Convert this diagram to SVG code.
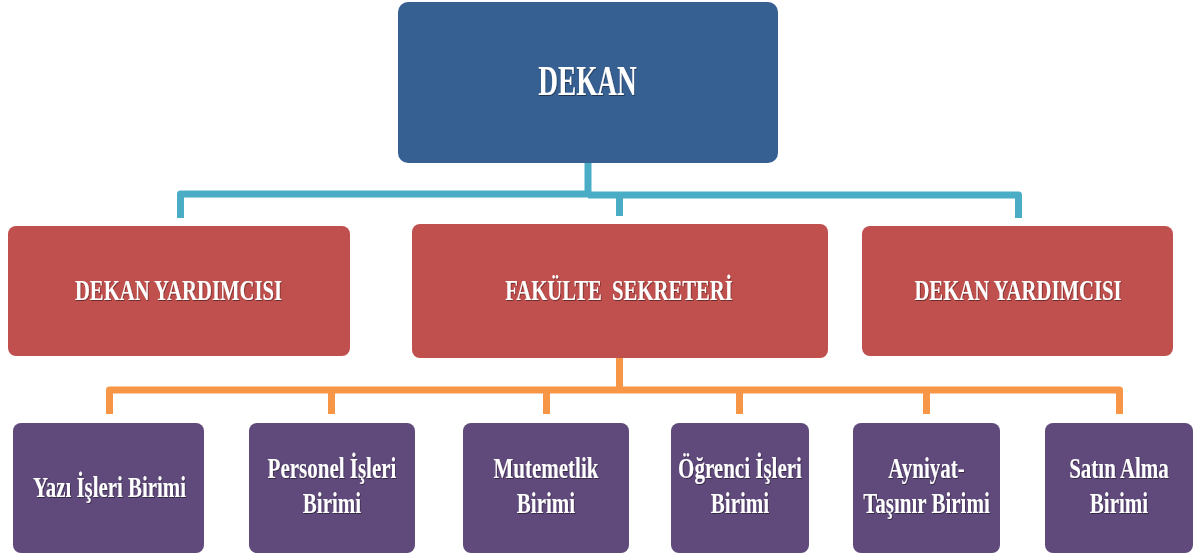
<svg xmlns="http://www.w3.org/2000/svg" width="1197" height="554" viewBox="0 0 1197 554">
  <defs>
    <style>
      .lbl { font-family: "Liberation Serif", "Times New Roman", serif; font-weight: bold; fill: #ffffff; text-anchor: middle; filter: url(#ts); }
      .l30 { font-size: 30px; }
      .l42 { font-size: 42px; }
      .blue { fill: #376092; }
      .red { fill: #C0504D; }
      .purple { fill: #604A7B; }
      .cy { fill: none; stroke: #4BACC6; stroke-width: 7; stroke-linejoin: round; }
      .or { fill: none; stroke: #F79646; stroke-width: 7; stroke-linejoin: round; }
    </style>
    <filter id="ts" x="-10%" y="-20%" width="120%" height="140%">
      <feDropShadow dx="1" dy="1" stdDeviation="0.6" flood-color="#000000" flood-opacity="0.45"/>
    </filter>
  </defs>

  <g id="connectors">
    <path class="cy" d="M588,163 V194 H180.5 V218"/>
    <path class="cy" d="M588,195 H1018.5 V218"/>
    <path class="cy" d="M619.5,195 V216"/>
    <path class="or" d="M619.5,358 V390"/>
    <path class="or" d="M109.5,414 V390 H1119.5 V414"/>
    <path class="or" d="M331.5,390 V414"/>
    <path class="or" d="M546.5,390 V414"/>
    <path class="or" d="M739.5,390 V414"/>
    <path class="or" d="M926.5,390 V414"/>
  </g>

  <g id="dekan">
    <rect class="blue" x="398" y="2" width="380" height="161" rx="10"/>
    <text class="lbl l42" transform="translate(587.5,95) scale(0.65,1)">DEKAN</text>
  </g>

  <g id="dekan-yardimcisi-1">
    <rect class="red" x="8" y="226" width="342" height="130" rx="8"/>
    <text class="lbl l30" transform="translate(178.5,300) scale(0.69,1)">DEKAN YARDIMCISI</text>
  </g>

  <g id="fakulte-sekreteri">
    <rect class="red" x="412" y="224" width="416" height="134" rx="8"/>
    <text class="lbl l30" xml:space="preserve" transform="translate(619,300) scale(0.69,1)">FAKÜLTE  SEKRETERİ</text>
  </g>

  <g id="dekan-yardimcisi-2">
    <rect class="red" x="862" y="226" width="311" height="130" rx="8"/>
    <text class="lbl l30" transform="translate(1018,300) scale(0.69,1)">DEKAN YARDIMCISI</text>
  </g>

  <g id="yazi-isleri">
    <rect class="purple" x="13" y="423" width="191" height="130" rx="8"/>
    <text class="lbl l30" transform="translate(109.5,497) scale(0.695,1)">Yazı İşleri Birimi</text>
  </g>

  <g id="personel-isleri">
    <rect class="purple" x="249" y="423" width="166" height="130" rx="8"/>
    <text class="lbl l30" transform="translate(332,478) scale(0.7,1)"><tspan x="0" y="0">Personel İşleri</tspan><tspan x="0" y="35">Birimi</tspan></text>
  </g>

  <g id="mutemetlik">
    <rect class="purple" x="463" y="423" width="166" height="130" rx="8"/>
    <text class="lbl l30" transform="translate(546,478) scale(0.7,1)"><tspan x="0" y="0">Mutemetlik</tspan><tspan x="0" y="35">Birimi</tspan></text>
  </g>

  <g id="ogrenci-isleri">
    <rect class="purple" x="671" y="423" width="138" height="130" rx="8"/>
    <text class="lbl l30" transform="translate(740,478) scale(0.7,1)"><tspan x="0" y="0">Öğrenci İşleri</tspan><tspan x="0" y="35">Birimi</tspan></text>
  </g>

  <g id="ayniyat-tasinir">
    <rect class="purple" x="853" y="423" width="147" height="130" rx="8"/>
    <text class="lbl l30" transform="translate(926.5,478) scale(0.7,1)"><tspan x="0" y="0">Ayniyat-</tspan><tspan x="0" y="35">Taşınır Birimi</tspan></text>
  </g>

  <g id="satin-alma">
    <rect class="purple" x="1045" y="423" width="148" height="130" rx="8"/>
    <text class="lbl l30" transform="translate(1119,478) scale(0.7,1)"><tspan x="0" y="0">Satın Alma</tspan><tspan x="0" y="35">Birimi</tspan></text>
  </g>
</svg>
